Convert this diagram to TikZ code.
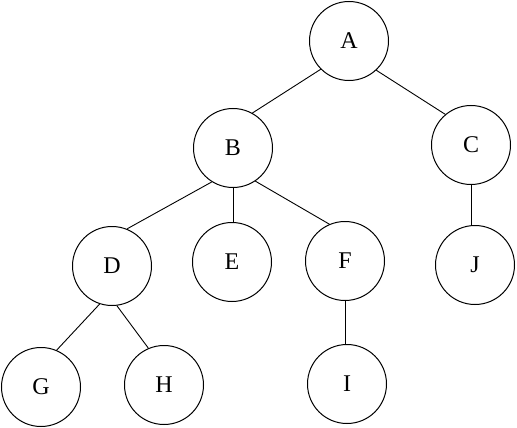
\documentclass[tikz,border=0pt]{standalone}
\usepackage{fontspec}
\setmainfont{Liberation Serif}
\begin{document}
\begin{tikzpicture}[x=1pt,y=-1pt,
  treenode/.style={draw,circle,line width=1pt,minimum size=79pt,inner sep=0pt,font=\fontsize{24}{26}\selectfont},
  edge/.style={line width=0.9pt}]
\useasboundingbox (0,0) rectangle (517,428);
\node[treenode] (A) at (349,41) {A};
\node[treenode] (B) at (233,148) {B};
\node[treenode] (C) at (471,145) {C};
\node[treenode] (D) at (112,266) {D};
\node[treenode] (E) at (232,262) {E};
\node[treenode] (F) at (345,261) {F};
\node[treenode] (J) at (475,265) {J};
\node[treenode] (G) at (41,387) {G};
\node[treenode] (H) at (164,385) {H};
\node[treenode] (I) at (347,384) {I};
\draw[edge] (A.225) -- (B.61);
\draw[edge] (A.-47) -- (C.130);
\draw[edge] (B.-122) -- (D.68);
\draw[edge] (B.south) -- (B.south |- E.north);
\draw[edge] (B.-56) -- (F.113);
\draw[edge] (C.south) -- (C.south |- J.north);
\draw[edge] (D.-108) -- (G.67);
\draw[edge] (D.-83) -- (H.113);
\draw[edge] (F.south) -- (F.south |- I.north);
\end{tikzpicture}
\end{document}
